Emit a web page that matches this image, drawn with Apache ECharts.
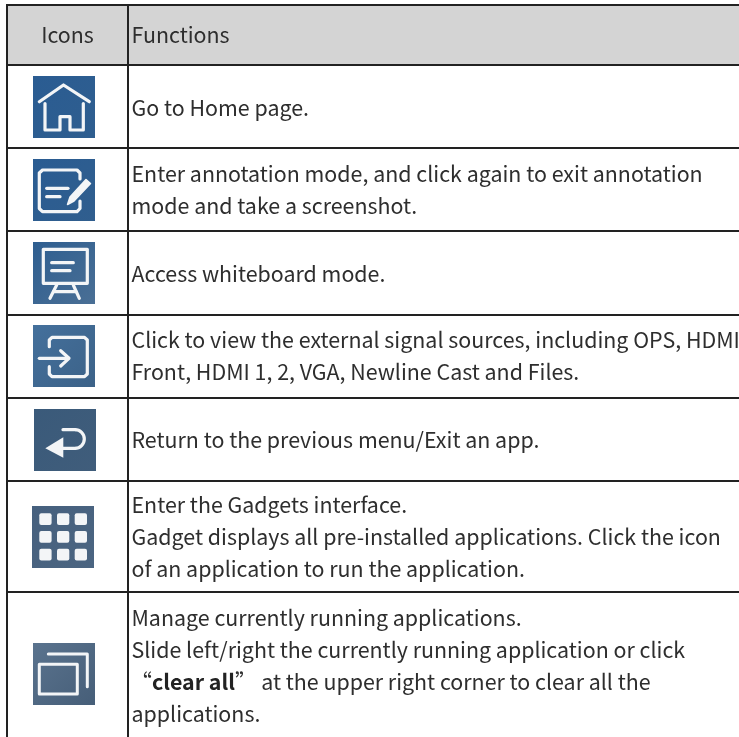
<!DOCTYPE html>
<html>
<head>
<meta charset="utf-8">
<title>Icons and functions</title>
<style>
  html, body { margin: 0; padding: 0; background: #fff; }
  #main { width: 739px; height: 737px; }
</style>
<script src="https://cdn.jsdelivr.net/npm/echarts@6/dist/echarts.min.js"></script>
</head>
<body>
<div id="main"></div>
<script>
'use strict';

// table content
var headers = ['Icons', 'Functions'];
var row1 = ['Go to Home page.'];
var row2 = ['Enter annotation mode, and click again to exit annotation', 'mode and take a screenshot.'];
var row3 = ['Access whiteboard mode.'];
var row4 = ['Click to view the external signal sources, including OPS, HDMI', 'Front, HDMI 1, 2, VGA, Newline Cast and Files.'];
var row5 = ['Return to the previous menu/Exit an app.'];
var row6 = ['Enter the Gadgets interface.', 'Gadget displays all pre-installed applications. Click the icon', 'of an application to run the application.'];
var row7 = ['Manage currently running applications.', 'Slide left/right the currently running application or click', '{n|“}{b|clear all}{n|”}{n| at the upper right corner to clear all the}', 'applications.'];
var rows = [row1, row2, row3, row4, row5, row6, row7];

// layout of the table
var W = 739, H = 737;
var hLines = [5, 65, 148, 231, 315, 398, 481, 592];
var vLines = [7, 128];
var textCenters = [107.5, 190, 273.5, 356, 440, 537, 666];
var iconBoxes = [[33, 76], [33, 159], [33, 242], [33, 325], [34, 409], [32, 506], [33, 643]];
var iconFills = [
  ['#2a5c92', '#2f5e8f'], ['#2a5c92', '#305e8e'], ['#2e5e90', '#4a6f95'],
  ['#44709c', '#3c6288'], ['#3a5a7a', '#405d7b'], ['#46607e', '#4b6581'], ['#5a738e', '#465e78']
];
var fontName = '"Noto Sans CJK SC", "Noto Sans", sans-serif';
var fontSize = 21.4;
var ink = '#2e2e2e';
var white = '#f3f5f7';

function line(pts, w) {
  return { type: 'polyline', shape: { points: pts }, style: { fill: null, stroke: white, lineWidth: w || 3.2, lineJoin: 'round', lineCap: 'round' } };
}

// icons are drawn in a 62x62 box
var iconParts = [
  // home
  [line([[6.3, 25.7], [30.5, 9], [56.3, 25.7]]), line([[12, 27.5], [12, 54], [27, 54], [27, 40.7], [37, 40.7], [37, 54], [50.3, 54], [50.3, 27.5]])],
  // annotation
  [line([[47, 20], [47, 14], [44, 11], [9.5, 11], [6.3, 14], [6.3, 49.5], [9.5, 52.7], [44, 52.7], [47, 49.5], [47, 42]]),
    line([[13.7, 29.3], [35, 29.3]]), line([[13.7, 37.7], [27, 37.7]]),
    { type: 'polygon', shape: { points: [[53, 20.5], [57.5, 24.5], [41, 42], [34.5, 45.5], [37, 38]] }, style: { fill: white, stroke: white, lineWidth: 1.5, lineJoin: 'round' } }],
  // whiteboard
  [line([[10.3, 7.3], [54.3, 7.3], [54.3, 41.3], [10.3, 41.3], [10.3, 7.3]]), line([[18.7, 20.7], [40.3, 20.7]]), line([[18.7, 28.7], [37, 28.7]]),
    line([[23.7, 43], [17, 56.3]]), line([[40.3, 43], [46.3, 56.3]]), line([[20.5, 49.7], [43, 49.7]])],
  // input source
  [line([[16.3, 21.7], [16.3, 15], [19, 12.3], [51.5, 12.3], [54.3, 15], [54.3, 49], [51.5, 51.7], [19, 51.7], [16.3, 49], [16.3, 41.7]]),
    line([[6.3, 33.3], [35, 33.3]]), line([[27.7, 25.7], [36, 33.3], [27.7, 41]])],
  // back
  [{ type: 'polygon', shape: { points: [[11.3, 39.3], [29.3, 28.3], [29.3, 48.7]] }, style: { fill: white } },
    line([[29, 39.3], [41, 39.3]], 3.2), line([[29, 20.7], [41, 20.7]], 3.2),
    { type: 'arc', shape: { cx: 41, cy: 30, r: 9.3, startAngle: -Math.PI / 2, endAngle: Math.PI / 2, clockwise: true }, style: { fill: null, stroke: white, lineWidth: 3.2 } }],
  // gadgets, filled below
  [],
  // running apps
  [line([[6.3, 21.3], [44.3, 21.3], [44.3, 51], [6.3, 51], [6.3, 21.3]], 3), line([[15.3, 11], [54.3, 11], [54.3, 43.7]], 3)]
];
[7.3, 25, 42.7].forEach(function (x) {
  [7.3, 25, 42.7].forEach(function (y) {
    iconParts[5].push({ type: 'rect', shape: { x: x, y: y, width: 12.3, height: 11.7, r: 2 }, style: { fill: white } });
  });
});

var elements = [];

// header band
elements.push({ type: 'rect', shape: { x: vLines[0], y: hLines[0], width: W - vLines[0], height: hLines[1] - hLines[0] }, style: { fill: '#d4d4d4' } });

function addText(str, x, y, align, rich) {
  elements.push({
    type: 'text', x: x, y: y,
    style: { text: str, x: 0, y: 0, fill: ink, font: fontSize + 'px ' + fontName, align: align, verticalAlign: 'middle', rich: rich }
  });
}

addText(headers[0], 67.5, 35, 'center');
addText(headers[1], 131.5, 35, 'left');

var richStyles = {
  n: { fill: ink, fontFamily: fontName, fontSize: fontSize },
  b: { fill: '#222', fontFamily: fontName, fontSize: fontSize, fontWeight: 'bold' }
};

for (var i = 0; i < rows.length; i++) {
  for (var j = 0; j < rows[i].length; j++) {
    var ty = textCenters[i] + (j - (rows[i].length - 1) / 2) * 32;
    var hasRich = rows[i][j].indexOf('{n|') === 0;
    addText(rows[i][j], hasRich ? 130.5 : 131.5, ty, 'left', hasRich ? richStyles : undefined);
  }
  var box = [{
    type: 'rect', shape: { x: 0, y: 0, width: 62, height: 62 },
    style: { fill: new echarts.graphic.LinearGradient(0, 0, 1, 1, [{ offset: 0, color: iconFills[i][0] }, { offset: 1, color: iconFills[i][1] }]) }
  }];
  elements.push({ type: 'group', x: iconBoxes[i][0], y: iconBoxes[i][1], children: box.concat(iconParts[i]) });
}

// rules
hLines.forEach(function (y) {
  elements.push({ type: 'rect', shape: { x: vLines[0] - 1, y: y - 1, width: W - vLines[0] + 1, height: 2 }, style: { fill: '#222' } });
});
vLines.forEach(function (x) {
  elements.push({ type: 'rect', shape: { x: x - 1, y: hLines[0] - 1, width: 2, height: H - hLines[0] + 1 }, style: { fill: '#222' } });
});

var chart = echarts.init(document.getElementById('main'));
chart.setOption({
  animation: false,
  backgroundColor: '#fff',
  graphic: { elements: elements }
});
</script>
</body>
</html>
